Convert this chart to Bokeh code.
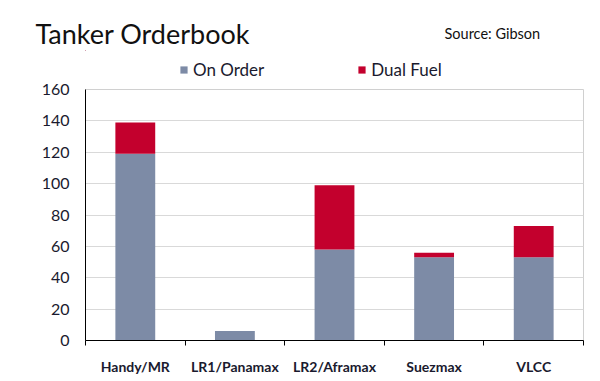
from bokeh.plotting import figure
from bokeh.layouts import column
from bokeh.models import (ColumnDataSource, Range1d, FixedTicker, Legend, LegendItem, Label)
from bokeh.embed import file_html
from bokeh.resources import INLINE

categories = ["Handy/MR", "LR1/Panamax", "LR2/Aframax", "Suezmax", "VLCC"]
on_order = [119, 6, 58, 53, 53]
dual_fuel = [20, 0, 41, 3, 20]
y_ticks = [0, 20, 40, 60, 80, 100, 120, 140, 160]

series = ["On Order", "Dual Fuel"]
colors = ["#7d8ba6", "#c3002d"]

FONT = "Lato"
TEXT = "#1a1a2e"

xpos = [i + 0.5 for i in range(len(categories))]
source = ColumnDataSource(dict(x=xpos, on_order=on_order, dual_fuel=dual_fuel))

# ---------------- header: title, source and legend ----------------
HEAD_H = 80
ph = figure(width=600, height=HEAD_H, output_backend="svg", toolbar_location=None,
            x_range=Range1d(10, 20), y_range=Range1d(-20, -10),
            min_border_left=0, min_border_right=0, min_border_top=0, min_border_bottom=0)
ph.axis.visible = False
ph.grid.visible = False
ph.outline_line_color = None

# the same stacked series (kept outside the header's visible ranges) give the legend swatches
swatches = ph.vbar_stack(["on_order", "dual_fuel"], x="x", width=0.4, source=source,
                         color=colors, line_color=None)
legend = Legend(items=[LegendItem(label=s, renderers=[r]) for s, r in zip(series, swatches)],
                orientation="horizontal", location=(94, 0),
                glyph_width=9, glyph_height=9, label_standoff=5, spacing=93,
                label_height=18, padding=0, margin=0, border_line_color=None,
                background_fill_alpha=0, label_text_font=FONT,
                label_text_font_size="17px", label_text_color=TEXT)
ph.add_layout(legend)

# texts in the panel above the header frame (first added sits nearest the frame)
ph.add_layout(Label(x=359, y=16.8, x_units="screen", y_units="screen", text="Source: Gibson",
                    text_font=FONT, text_font_size="14.5px", text_color="#111111",
                    text_baseline="alphabetic"), "above")
ph.add_layout(Label(x=-50, y=0.4, x_units="screen", y_units="screen", text="Tanker Orderbook",
                    text_font=FONT, text_font_size="27px", text_color="#111111",
                    text_baseline="alphabetic"), "above")

# ---------------- main chart ----------------
p = figure(width=600, height=381 - HEAD_H, output_backend="svg", toolbar_location=None,
           x_range=Range1d(0, len(categories)), y_range=Range1d(0, 160),
           min_border_left=85, min_border_right=17, min_border_top=9, min_border_bottom=41)

p.vbar_stack(["on_order", "dual_fuel"], x="x", width=0.4, source=source,
             color=colors, line_color=None)

p.xaxis.ticker = FixedTicker(ticks=xpos, minor_ticks=list(range(len(categories) + 1)))
p.xaxis.major_label_overrides = {x: c for x, c in zip(xpos, categories)}
p.xaxis.major_tick_line_color = None
p.xaxis.major_tick_in = 0
p.xaxis.major_tick_out = 0
p.xaxis.minor_tick_in = 0
p.xaxis.minor_tick_out = 5
p.xaxis.minor_tick_line_color = "black"
p.xaxis.axis_line_color = "black"
p.xaxis.major_label_standoff = 12
p.xaxis.major_label_text_font = FONT
p.xaxis.major_label_text_font_size = "14px"
p.xaxis.major_label_text_font_style = "bold"
p.xaxis.major_label_text_color = TEXT

p.yaxis.ticker = FixedTicker(ticks=y_ticks)
p.yaxis.major_tick_line_color = None
p.yaxis.major_tick_in = 0
p.yaxis.major_tick_out = 0
p.yaxis.minor_tick_line_color = None
p.yaxis.axis_line_color = "black"
p.yaxis.major_label_standoff = 16
p.yaxis.major_label_text_font = FONT
p.yaxis.major_label_text_font_size = "16px"
p.yaxis.major_label_text_color = TEXT

p.xgrid.grid_line_color = None
p.ygrid.grid_line_color = "#d9d9d9"
p.ygrid.ticker = FixedTicker(ticks=y_ticks)
p.outline_line_color = "#d0d0d0"

layout = column(ph, p, spacing=0)
open("out.html", "w").write(file_html(layout, INLINE))
